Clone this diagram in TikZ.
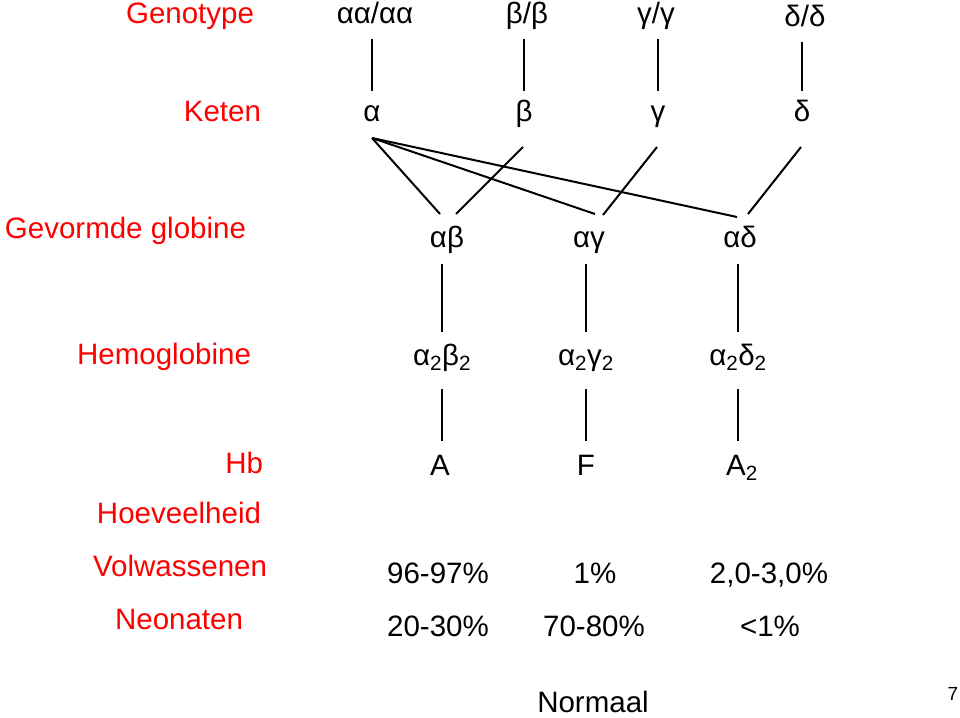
\documentclass[tikz,border=0pt]{standalone}
\usepackage{fontspec}
\setmainfont{Liberation Sans}
\begin{document}
\begin{tikzpicture}[x=1pt, y=-1pt, line width=2pt,
    every node/.style={inner sep=0pt, anchor=base, font=\fontsize{29.5}{34}\selectfont},
    gene/.style={text height=22pt, text depth=6pt},
    rowlabel/.style={anchor=base east, text=red}]
            \useasboundingbox (0,0) rectangle (960,717);
            % Row labels
            \node[rowlabel] (lgen) at (255,24) {Genotype};
            \node[rowlabel] (lket) at (262,121) {Keten};
            \node[rowlabel] (lglo) at (247,238) {Gevormde globine};
            \node[rowlabel] (lhem) at (252,364) {Hemoglobine};
            \node[rowlabel] (lhb) at (264,473) {Hb};
            \node[rowlabel] (lhoe) at (262,523) {Hoeveelheid};
            \node[rowlabel] (lvol) at (268,576) {Volwassenen};
            \node[rowlabel] (lneo) at (244,629) {Neonaten};
            % Genotype
            \node[gene] (g1) at (375,24) {αα/αα};
            \node[gene] (g2) at (527,24) {β/β};
            \node[gene] (g3) at (656,24) {γ/γ};
            \node[gene] (g4) at (805,27) {δ/δ};
            % Chains
            \node[gene] (k1) at (372,121) {α};
            \node[gene] (k2) at (524,121) {β};
            \node[gene] (k3) at (658,121) {γ};
            \node[gene] (k4) at (802,121) {δ};
            % Globins
            \node[gene] (ab) at (447,247) {αβ};
            \node[gene] (ag) at (589,247) {αγ};
            \node[gene] (ad) at (740,247) {αδ};
            % Hemoglobins
            \node[gene] (h1) at (442,365) {α\textsubscript{2}β\textsubscript{2}};
            \node[gene] (h2) at (586,365) {α\textsubscript{2}γ\textsubscript{2}};
            \node[gene] (h3) at (738,365) {α\textsubscript{2}δ\textsubscript{2}};
            % Hb types
            \node[gene] (hb1) at (440,475) {A};
            \node[gene] (hb2) at (586,475) {F};
            \node[gene] (hb3) at (742,475) {A\textsubscript{2}};
            % Amounts
            \node (v1) at (438,583) {96-97\%};
            \node (v2) at (595,583) {1\%};
            \node (v3) at (769,583) {2,0-3,0\%};
            \node (n1) at (438,636) {20-30\%};
            \node (n2) at (594,636) {70-80\%};
            \node (n3) at (770,636) {<1\%};
            % Footer
            \node (norm) at (593,712) {Normaal};
            \node[font=\fontsize{19}{22}\selectfont] (page) at (953,700) {7};
            % Genotype to chain
            \foreach \i in {1,...,4}
              \draw[shorten <=8pt, shorten >=7pt] (k\i.north |- g\i.south) -- (k\i.north);
            % Chain to globin
            \draw ([shift={(0,10)}]k1.south) -- ([shift={(-7,-10)}]ab.north);
            \draw ([shift={(0,10)}]k1.south) -- ([shift={(6,-10)}]ag.north);
            \draw ([shift={(0,10)}]k1.south) -- ([shift={(-3,-7)}]ad.north);
            \draw ([shift={(-1,19)}]k2.south) -- ([shift={(9,-10)}]ab.north);
            \draw ([shift={(-1,19)}]k3.south) -- ([shift={(14,-9)}]ag.north);
            \draw ([shift={(-1,19)}]k4.south) -- ([shift={(8,-10)}]ad.north);
            % Globin to hemoglobin
            \draw[shorten <=10pt, shorten >=10pt] (h1.north |- ab.south) -- (h1.north);
            \draw[shorten <=10pt, shorten >=10pt] (h2.north |- ag.south) -- (h2.north);
            \draw[shorten <=10pt, shorten >=10pt] (h3.north |- ad.south) -- (h3.north);
            % Hemoglobin to Hb
            \draw[shorten <=17pt, shorten >=11pt] (h1.south) -- (h1.south |- hb1.north);
            \draw[shorten <=17pt, shorten >=11pt] (h2.south) -- (h2.south |- hb2.north);
            \draw[shorten <=17pt, shorten >=11pt] (h3.south) -- (h3.south |- hb3.north);
          \end{tikzpicture}
\end{document}
